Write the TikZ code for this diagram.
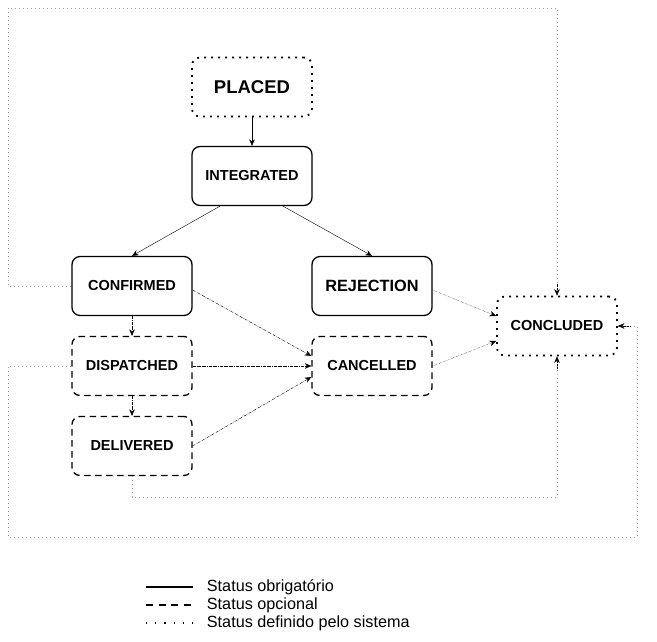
\documentclass[tikz,border=0pt]{standalone}
\usepackage{fontspec}
\setmainfont{Liberation Sans}
\usetikzlibrary{arrows.meta, positioning}

\begin{document}
\begin{tikzpicture}[x=1pt, y=-1pt,
    every node/.style={font=\bfseries\fontsize{14.5}{16}\selectfont},
    estado/.style={rounded corners=8pt, minimum width=120pt, minimum height=59pt, inner sep=0pt},
    obrig/.style={estado, draw, line width=1.3pt},
    opcional/.style={estado, draw, line width=1.3pt, dash pattern=on 6.5pt off 4.5pt},
    sistema/.style={estado, draw, line width=1.8pt, dash pattern=on 1.8pt off 5.2pt},
    seta/.style={-{Stealth[length=6.5pt, width=5.5pt]}},
    volta/.style={gray!75, line width=0.9pt, dash pattern=on 1pt off 3pt}]
  \useasboundingbox (0,0) rectangle (657,642);

  \node[sistema] (placed) at (252,87) {\fontsize{18.5}{20}\selectfont PLACED};
  \node[obrig] (integ) at (252,176) {INTEGRATED};
  \node[obrig] (conf) at (132,286) {CONFIRMED};
  \node[obrig] (rej) at (372,286) {\fontsize{16.3}{18}\selectfont REJECTION};
  \node[opcional] (disp) at (132,366) {DISPATCHED};
  \node[opcional] (canc) at (372,366) {CANCELLED};
  \node[opcional] (deliv) at (132,446) {DELIVERED};
  \node[sistema] (concl) at (557,326) {CONCLUDED};

  % transicoes
  \draw[seta] (placed) -- (integ);
  \draw[seta] ([xshift=-32pt]integ.south) -- (conf.north);
  \draw[seta] ([xshift=31pt]integ.south) -- (rej.north);
  \draw[seta, densely dashdotted] (conf) -- (disp);
  \draw[seta, densely dashdotted] (disp) -- (deliv);
  \draw[seta, densely dashdotted] ([yshift=-4pt]conf.east) -- ([yshift=10pt]canc.west);
  \draw[seta, densely dashdotted] (disp) -- (canc);
  \draw[seta, densely dashdotted] (deliv.east) -- ([yshift=-11pt]canc.west);
  \draw[seta, densely dotted] ([yshift=-4pt]rej.east) -- ([yshift=10pt]concl.west);
  \draw[seta, densely dotted] (canc.east) -- ([yshift=-15pt]concl.west);

  % caminhos de volta
  \coordinate (c1) at (8,8);
  \coordinate (c2) at (8,537);
  \coordinate (c3) at (637,537);
  \coordinate (c4) at (132,497);
  \draw[volta] (conf.west) -| (c1) -| (concl.north);
  \draw[volta] (disp.west) -| (c2) -- (c3) |- (concl.east);
  \draw[volta] (deliv.south) -- (c4) -| (concl.south);
  \draw[seta, densely dotted] ([yshift=12pt]concl.north) -- (concl.north);
  \draw[seta, densely dotted] ([xshift=12pt]concl.east) -- (concl.east);
  \draw[seta, densely dotted] ([yshift=-12pt]concl.south) -- (concl.south);

  % legenda
  \begin{scope}[every node/.style={font=\fontsize{16.2}{18}\selectfont, anchor=west}]
    \draw[line width=1.2pt] (146,587) -- (193,587) node (leg1) at (203,587) {Status obrigat\'orio};
    \draw[line width=1.2pt, dash pattern=on 7pt off 5.5pt] (146,605) -- (193,605) node (leg2) at (203,605) {Status opcional};
    \draw[line width=1.2pt, dash pattern=on 1.2pt off 8pt] (146,623) -- (193,623) node (leg3) at (203,623) {Status definido pelo sistema};
  \end{scope}
\end{tikzpicture}
\end{document}
